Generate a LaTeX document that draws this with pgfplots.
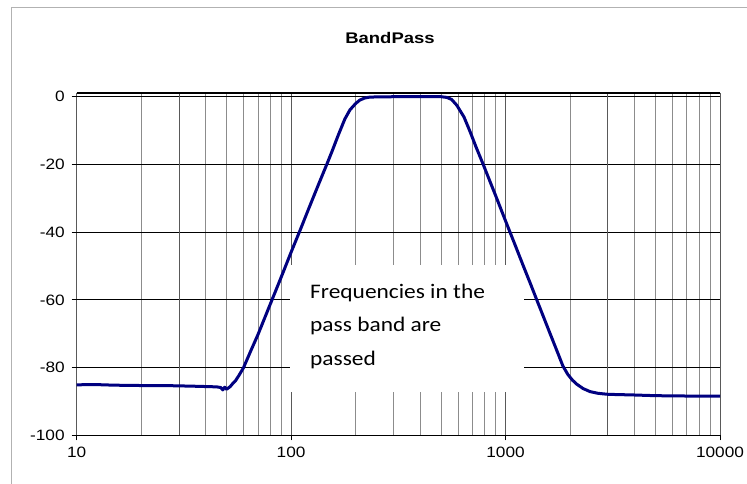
\documentclass[border=0pt]{standalone}
\usepackage{pgfplots}
\pgfplotsset{compat=1.18}
\usepackage{fontspec}
\setmainfont{Liberation Sans}
\newfontfamily\tickfont[FakeStretch=1.15]{Liberation Sans}
\newfontfamily\titlefont[FakeStretch=1.2]{Liberation Sans}
\newfontfamily\boxfont[FakeStretch=1.13]{Carlito}
\definecolor{navyline}{RGB}{0,0,128}
\begin{document}
\begin{tikzpicture}
\useasboundingbox (0,0) rectangle (747pt,484pt);
\draw[gray!60, line width=0.8pt] (11.5pt,0) -- (11.5pt,476.7pt) -- (747pt,476.7pt);
\begin{axis}[
  at={(76.7pt,48.7pt)}, anchor=south west,
  scale only axis, width=643.3pt, height=342.3pt,
  xmode=log, xmin=10, xmax=10000, ymin=-100, ymax=1.1,
  axis x line*=bottom, axis y line*=left,
  y axis line style={draw=none},
  x axis line style={black, line width=0.9pt},
  xtick={10,100,1000,10000}, xticklabels={10,100,1000,10000},
  ytick={-100,-80,-60,-40,-20,0}, yticklabels={-100,-80,-60,-40,-20,0},
  tick align=outside, major tick length=5pt, minor tick length=0pt,
  tick style={black, line width=0.8pt},
  xmajorgrids, xminorgrids, ymajorgrids,
  major x grid style={black!65, line width=0.9pt},
  minor x grid style={black!45, line width=0.8pt},
  major y grid style={black, line width=0.9pt},
  yticklabel style={font=\tickfont\fontsize{15}{18}\selectfont, anchor=east, xshift=-3.5pt},
  xticklabel style={font=\tickfont\fontsize{15}{18}\selectfont, anchor=north, yshift=-2.7pt},
  clip=false,
]
\draw[black!65, line width=0.9pt] (axis cs:30,-100) -- (axis cs:30,1.1);
\draw[black!65, line width=0.9pt] (axis cs:3000,-100) -- (axis cs:3000,1.1);
\draw[black, line width=1.6pt] (rel axis cs:0,1) -- (rel axis cs:1,1);
\fill[white] (axis cs:98.9,-49.7) rectangle (axis cs:1222,-87.2);
\addplot[navyline, line width=3pt, line join=round] table {
x y
10 -85.1
12 -85.0
15 -85.2
20 -85.3
25 -85.3
30 -85.4
35 -85.5
40 -85.6
45 -85.7
47 -85.9
48 -86.6
49 -85.8
50 -86.4
51 -86.0
52 -85.6
53.6 -84.6
55 -83.9
57 -82.4
60 -80
65 -74.9
70 -70.3
80 -61.2
90 -53.2
100 -45.9
110 -39.5
120 -33.5
134 -26.0
146.6 -20
155 -16.2
166 -11.3
178 -6.6
188 -3.9
200 -2
209 -1
220 -0.4
233 -0.1
300 0
400 0
500 0
532 -0.2
560 -0.8
592 -2.5
640 -6
683 -10.3
730 -15
789 -20.2
900 -29.3
1000 -36.7
1100 -43.3
1200 -49.4
1300 -54.9
1400 -60.1
1500 -64.9
1600 -69.4
1750 -75.6
1850 -79.5
1950 -82
2050 -83.7
2148 -84.9
2300 -86.2
2478 -87.1
2700 -87.6
3000 -87.9
4000 -88.1
5000 -88.3
7000 -88.4
10000 -88.4
};
\end{axis}
\node[font=\titlefont\bfseries\fontsize{15.4}{18}\selectfont] at (390pt,446.2pt) {BandPass};
\node[font=\boxfont\fontsize{20.7}{33.5}\selectfont, anchor=base west, align=left, inner sep=0pt] at (310pt,118.7pt) {Frequencies in the\\pass band are\\passed};
\end{tikzpicture}
\end{document}
